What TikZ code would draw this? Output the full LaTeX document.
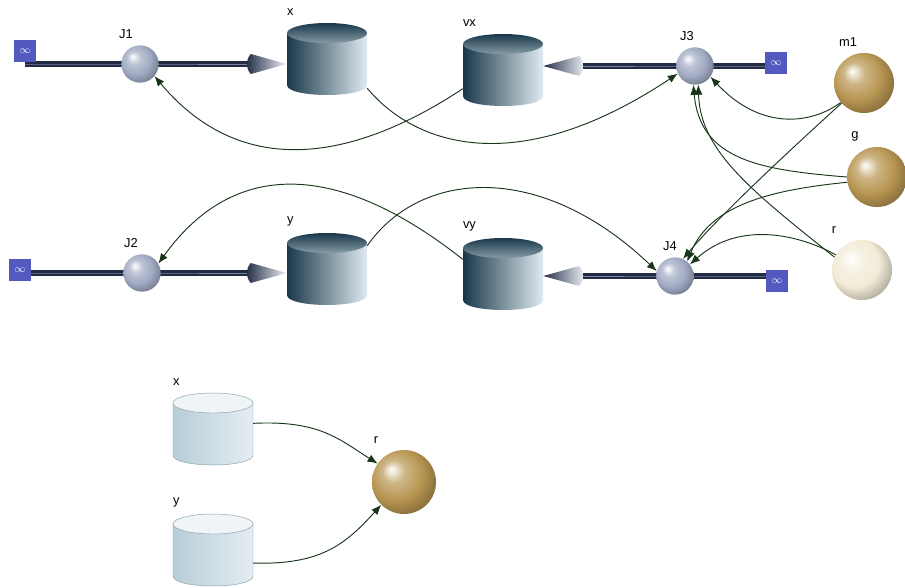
\documentclass[tikz,border=0pt]{standalone}
\usepackage{fontspec}
\setmainfont{Liberation Sans}
\usepackage{tikz}
\usetikzlibrary{arrows.meta,positioning,calc,backgrounds}
\definecolor{pipedark}{RGB}{34,43,68}
\definecolor{pipelight}{RGB}{118,130,158}
\definecolor{conemid}{RGB}{120,132,160}
\definecolor{conetip}{RGB}{236,240,246}
\definecolor{stockdark}{RGB}{24,56,74}
\definecolor{stocklight}{RGB}{224,234,240}
\definecolor{tankside}{RGB}{184,205,216}
\definecolor{tanklight}{RGB}{228,237,242}
\definecolor{tankedge}{RGB}{138,160,172}
\definecolor{valvecol}{RGB}{160,170,194}
\definecolor{auxgold}{RGB}{184,150,82}
\definecolor{auxcream}{RGB}{242,235,215}
\definecolor{sourceblue}{RGB}{82,90,192}
\definecolor{linkgreen}{RGB}{26,54,26}

% a softer ball shading than the tikz one (no black rim)
\makeatletter
\pgfdeclareradialshading[tikz@ball]{softball}{\pgfqpoint{-10bp}{10bp}}{%
  color(0bp)=(tikz@ball!0!white); color(9bp)=(tikz@ball!70!white);
  color(20bp)=(tikz@ball); color(32bp)=(tikz@ball!70!black);
  color(50bp)=(tikz@ball!40!black)}
\makeatother

% stock drum: name, centre, label, body style, lid style
\newcommand{\stockdrum}[5]{%
  \node[stockbox,label={[lbl,anchor=south west,xshift=2pt,yshift=2pt]north west:#3}] (#1) at (#2) {};
  \begin{scope}[shift={(#1.center)}]
    \path[#4] (-40,-26) -- (-40,26) .. controls (-40,39.3) and (40,39.3) .. (40,26) -- (40,-26) -- cycle;
    \path[#5] (0,-26) ellipse [x radius=40,y radius=10];
  \end{scope}}
% flow cone: tip point, direction (1 right, -1 left)
\newcommand{\cone}[2]{%
  \shade[shift={(#1)},xscale=#2,left color=pipedark,middle color=conemid,right color=conetip]
    (-36,-10) .. controls (-41,-5) and (-41,5) .. (-36,10) -- (0,0) -- cycle;}

\begin{document}
\begin{tikzpicture}[x=0.03cm,y=-0.03cm,label distance=4pt,
  lbl/.style={font=\fontsize{11}{13}\selectfont,inner sep=1pt},
  valve/.style={circle,minimum size=1.12cm,inner sep=0pt,ball color=valvecol,shading=softball},
  aux/.style={circle,minimum size=1.8cm,inner sep=0pt,ball color=#1,shading=softball},
  source/.style={fill=sourceblue,minimum size=0.66cm,inner sep=0pt,text=white,font=\small},
  stockbox/.style={minimum width=2.4cm,minimum height=2.16cm,inner sep=0pt},
  level/.style={left color=stockdark,right color=stocklight},
  levellid/.style={top color=stockdark,bottom color=stocklight!55!stockdark},
  tank/.style={left color=tankside,right color=tanklight,draw=tankedge,thin},
  tanklid/.style={fill=tanklight!60!white,draw=tankedge,thin},
  pipe/.style={draw=pipedark,line width=1.8pt,double=pipelight,double distance=0.8pt},
  link/.style={draw=linkgreen,line width=0.8pt,-{Latex[length=3mm,width=2.4mm]}}]
  \useasboundingbox (0,0) rectangle (905,587);

  % sources and sinks
  \node[source] (c1) at (25,51) {$\infty$};
  \node[source] (c2) at (20,270) {$\infty$};
  \node[source] (c3) at (776,63) {$\infty$};
  \node[source] (c4) at (777,281) {$\infty$};

  % valves
  \node[valve,label={[lbl,xshift=-4.2mm]above:J1}] (J1) at (140,64) {};
  \node[valve,label={[lbl,xshift=-3.3mm]above:J2}] (J2) at (142,273) {};
  \node[valve,label={[lbl,xshift=-2.4mm]above:J3}] (J3) at (695,66) {};
  \node[valve,label={[lbl,xshift=-1.5mm]above:J4}] (J4) at (675,276) {};

  % levels
  \stockdrum{x}{327,59}{x}{level}{levellid}
  \stockdrum{vx}{503,70}{vx}{level}{levellid}
  \stockdrum{y}{327,269}{y}{level}{levellid}
  \stockdrum{vy}{503,274}{vy}{level}{levellid}

  % auxiliaries
  \node[aux=auxgold,label={[lbl,xshift=-4.8mm]above:m1}] (m1) at (864,83) {};
  \node[aux=auxgold,label={[lbl,xshift=-6.6mm]above:g}] (g) at (877,177) {};
  \node[aux=auxcream,label={[lbl,xshift=-8.4mm]above:r}] (r) at (862,270) {};

  % second diagram
  \stockdrum{xb}{213,429}{x}{tank}{tanklid}
  \stockdrum{yb}{213,550}{y}{tank}{tanklid}
  \node[aux=auxgold,minimum size=1.92cm,label={[lbl,xshift=-8.4mm]above:r}] (rb) at (404,482) {};

  % flow pipes
  \begin{scope}[on background layer]
    \draw[pipe,shorten >=9mm] (c1.south |- J1) -- (J1.center) -- (x.west |- J1);
    \draw[pipe,shorten >=9mm] (c2.east |- J2) -- (J2.center) -- (y.west |- J2);
    \draw[pipe,shorten >=9mm] (c3.west |- J3) -- (J3.center) -- (vx.east |- J3);
    \draw[pipe,shorten >=9mm] (c4.west |- J4) -- (J4.center) -- (vy.east |- J4);
  \end{scope}
  \cone{x.west |- J1}{1}
  \cone{y.west |- J2}{1}
  \cone{vx.east |- J3}{-1}
  \cone{vy.east |- J4}{-1}

  % links
  \draw[link] (vx.205) .. controls (370,150) and (250,190) .. (J1.-40);
  \draw[link] (x.-36) .. controls (410,140) and (510,185) .. (J3.204);
  \draw[link] (vy.160) .. controls (350,170) and (240,150) .. (J2.30);
  \draw[link] (y.30) .. controls (420,170) and (540,160) .. (J4.165);
  \draw[link] (m1.220) .. controls (810,125) and (760,130) .. (J3.-35);
  \draw[link] (m1.222) .. controls (790,150) and (720,215) .. (J4.65);
  \draw[link] (g.180) .. controls (760,170) and (700,160) .. (J3.-95);
  \draw[link] (g.190) .. controls (770,190) and (710,205) .. (J4.50);
  \draw[link] (r.155) .. controls (750,190) and (700,150) .. (J3.-80);
  \draw[link] (r.150) .. controls (800,235) and (740,220) .. (J4.38);
  \draw[link] (xb.8) .. controls (320,420) and (340,440) .. (rb.145);
  \draw[link] (yb.-18) .. controls (320,565) and (345,545) .. (rb.225);
\end{tikzpicture}
\end{document}
